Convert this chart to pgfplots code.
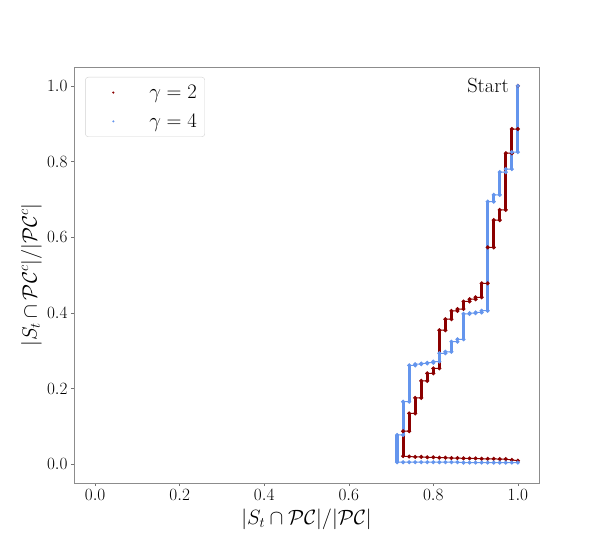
\documentclass[border=0pt]{standalone}
\usepackage{pgfplots}
\pgfplotsset{compat=1.18}
\definecolor{dred}{RGB}{139,0,0}
\definecolor{cblue}{RGB}{100,149,237}
\newcommand\fs{\fontsize{17}{20}\selectfont}
\newcommand\fl{\fontsize{20.5}{24}\selectfont}
\pgfplotsset{dotlegend/.style={legend image code/.code={\path[draw=none,fill=none] (0bp,-1bp) rectangle (56bp,1bp); \fill[##1, draw=none, fill=#1] (22bp,0bp) circle (1.2bp);}}}
\begin{document}
\begin{tikzpicture}
\begin{axis}[
  scale only axis, width=465bp, height=416bp,
  xmin=-0.05, xmax=1.05, ymin=-0.05, ymax=1.05,
  xtick={0,0.2,0.4,0.6,0.8,1.0}, ytick={0,0.2,0.4,0.6,0.8,1.0},
  xticklabel style={/pgf/number format/fixed,/pgf/number format/fixed zerofill,/pgf/number format/precision=1},
  yticklabel style={/pgf/number format/fixed,/pgf/number format/fixed zerofill,/pgf/number format/precision=1},
  tick label style={font=\fs},
  label style={font=\fl},
  axis line style={gray!90},
  tick style={gray!90!black, thin},
  tick pos=left, tick align=outside, major tick length=3bp,
  unbounded coords=jump,
  xlabel={$|S_t \cap \mathcal{PC}|/|\mathcal{PC}|$},
  ylabel={$|S_t \cap \mathcal{PC}^c|/|\mathcal{PC}^c|$},
  x label style={at={(axis description cs:0.5,-0.0865)}, anchor=center},
  y label style={at={(axis description cs:-0.0914,0.5)}, anchor=center},
  legend cell align=left,
  legend style={at={(0.024,0.976)}, anchor=north west, draw=gray!35, rounded corners=3bp,
    fill=white, inner xsep=6bp, inner ysep=6bp, font=\fontsize{20}{24}\selectfont, row sep=10bp},
]
% gamma = 2 : path
\addplot[color=dred, line width=1bp, mark=*, mark size=1.5bp, dotlegend=dred] coordinates {
(1.0,1.0) (1.0,0.886) (0.9857,0.886) (0.9857,0.822) (0.9714,0.822) (0.9714,0.672)
(0.9571,0.672) (0.9571,0.645) (0.9429,0.645) (0.9429,0.573) (0.9286,0.573) (0.9286,0.478)
(0.9143,0.478) (0.9143,0.441) (0.9,0.441) (0.9,0.436) (0.8857,0.436) (0.8857,0.430)
(0.8714,0.430) (0.8714,0.410) (0.8571,0.410) (0.8571,0.405) (0.8429,0.405) (0.8429,0.383)
(0.8286,0.383) (0.8286,0.354) (0.8143,0.354) (0.8143,0.253) (0.8,0.253) (0.8,0.240)
(0.7857,0.240) (0.7857,0.220) (0.7714,0.220) (0.7714,0.175) (0.7571,0.175) (0.7571,0.134)
(0.7429,0.134) (0.7429,0.087) (0.7286,0.087) (0.7286,0.021)
(0.7429,0.020) (0.7571,0.019) (0.7714,0.019) (0.7857,0.018) (0.8,0.018) (0.8143,0.017)
(0.8286,0.017) (0.8429,0.016) (0.8571,0.016) (0.8714,0.015) (0.8857,0.015) (0.9,0.015)
(0.9143,0.014) (0.9286,0.014) (0.9429,0.014) (0.9571,0.013) (0.9714,0.013) (0.9857,0.011)
(1.0,0.009)
};
\addlegendentry{$\gamma = 2$}
% gamma = 2 : vertical runs
\addplot[forget plot, color=dred, line width=3.2bp] coordinates {
(1.0,1.0) (1.0,0.886) (1.0,nan)
(0.9857,0.886) (0.9857,0.822) (0.9857,nan)
(0.9714,0.822) (0.9714,0.672) (0.9714,nan)
(0.9571,0.672) (0.9571,0.645) (0.9571,nan)
(0.9429,0.645) (0.9429,0.573) (0.9429,nan)
(0.9286,0.573) (0.9286,0.478) (0.9286,nan)
(0.9143,0.478) (0.9143,0.441) (0.9143,nan)
(0.8714,0.430) (0.8714,0.410) (0.8714,nan)
(0.8429,0.405) (0.8429,0.383) (0.8429,nan)
(0.8286,0.383) (0.8286,0.354) (0.8286,nan)
(0.8143,0.354) (0.8143,0.253) (0.8143,nan)
(0.8,0.253) (0.8,0.240) (0.8,nan)
(0.7857,0.240) (0.7857,0.220) (0.7857,nan)
(0.7714,0.220) (0.7714,0.175) (0.7714,nan)
(0.7571,0.175) (0.7571,0.134) (0.7571,nan)
(0.7429,0.134) (0.7429,0.087) (0.7429,nan)
(0.7286,0.087) (0.7286,0.021)
};
% gamma = 4 : path
\addplot[color=cblue, line width=1bp, mark=*, mark size=1.5bp, dotlegend=cblue] coordinates {
(1.0,1.0) (1.0,0.825) (0.9857,0.825) (0.9857,0.780) (0.9714,0.780) (0.9714,0.772)
(0.9571,0.772) (0.9571,0.712) (0.9429,0.712) (0.9429,0.694) (0.9286,0.694) (0.9286,0.4055)
(0.9143,0.4055) (0.9143,0.401) (0.9,0.401) (0.9,0.399) (0.8857,0.399) (0.8857,0.397)
(0.8714,0.397) (0.8714,0.330) (0.8571,0.330) (0.8571,0.3235) (0.8429,0.3235) (0.8429,0.297)
(0.8286,0.297) (0.8286,0.293) (0.8143,0.293) (0.8143,0.271) (0.8,0.271) (0.8,0.268)
(0.7857,0.268) (0.7857,0.266) (0.7714,0.266) (0.7714,0.264) (0.7571,0.264) (0.7571,0.261)
(0.7429,0.261) (0.7429,0.165) (0.7286,0.165) (0.7286,0.077) (0.7143,0.077) (0.7143,0.005)
(0.7286,0.005) (0.7429,0.005) (0.7571,0.005) (0.7714,0.005) (0.7857,0.005) (0.8,0.005)
(0.8143,0.005) (0.8286,0.005) (0.8429,0.005) (0.8571,0.005) (0.8714,0.004) (0.8857,0.004)
(0.9,0.004) (0.9143,0.004) (0.9286,0.004) (0.9429,0.004) (0.9571,0.004) (0.9714,0.004)
(0.9857,0.004) (1.0,0.004)
};
\addlegendentry{$\gamma = 4$}
% gamma = 4 : vertical runs
\addplot[forget plot, color=cblue, line width=3.2bp] coordinates {
(1.0,1.0) (1.0,0.825) (1.0,nan)
(0.9857,0.825) (0.9857,0.780) (0.9857,nan)
(0.9571,0.772) (0.9571,0.712) (0.9571,nan)
(0.9429,0.712) (0.9429,0.694) (0.9429,nan)
(0.9286,0.694) (0.9286,0.4055) (0.9286,nan)
(0.8714,0.397) (0.8714,0.330) (0.8714,nan)
(0.8429,0.3235) (0.8429,0.297) (0.8429,nan)
(0.8143,0.293) (0.8143,0.271) (0.8143,nan)
(0.7429,0.261) (0.7429,0.165) (0.7429,nan)
(0.7286,0.165) (0.7286,0.077) (0.7286,nan)
(0.7143,0.077) (0.7143,0.005)
};
\node[anchor=east, inner sep=0pt, font=\fl] at (axis cs:0.979,1.0) {Start};
\end{axis}
\path ([shift={(-74bp,-69bp)}]current axis.south west) rectangle ([shift={(59bp,67bp)}]current axis.north east);
\end{tikzpicture}
\end{document}
